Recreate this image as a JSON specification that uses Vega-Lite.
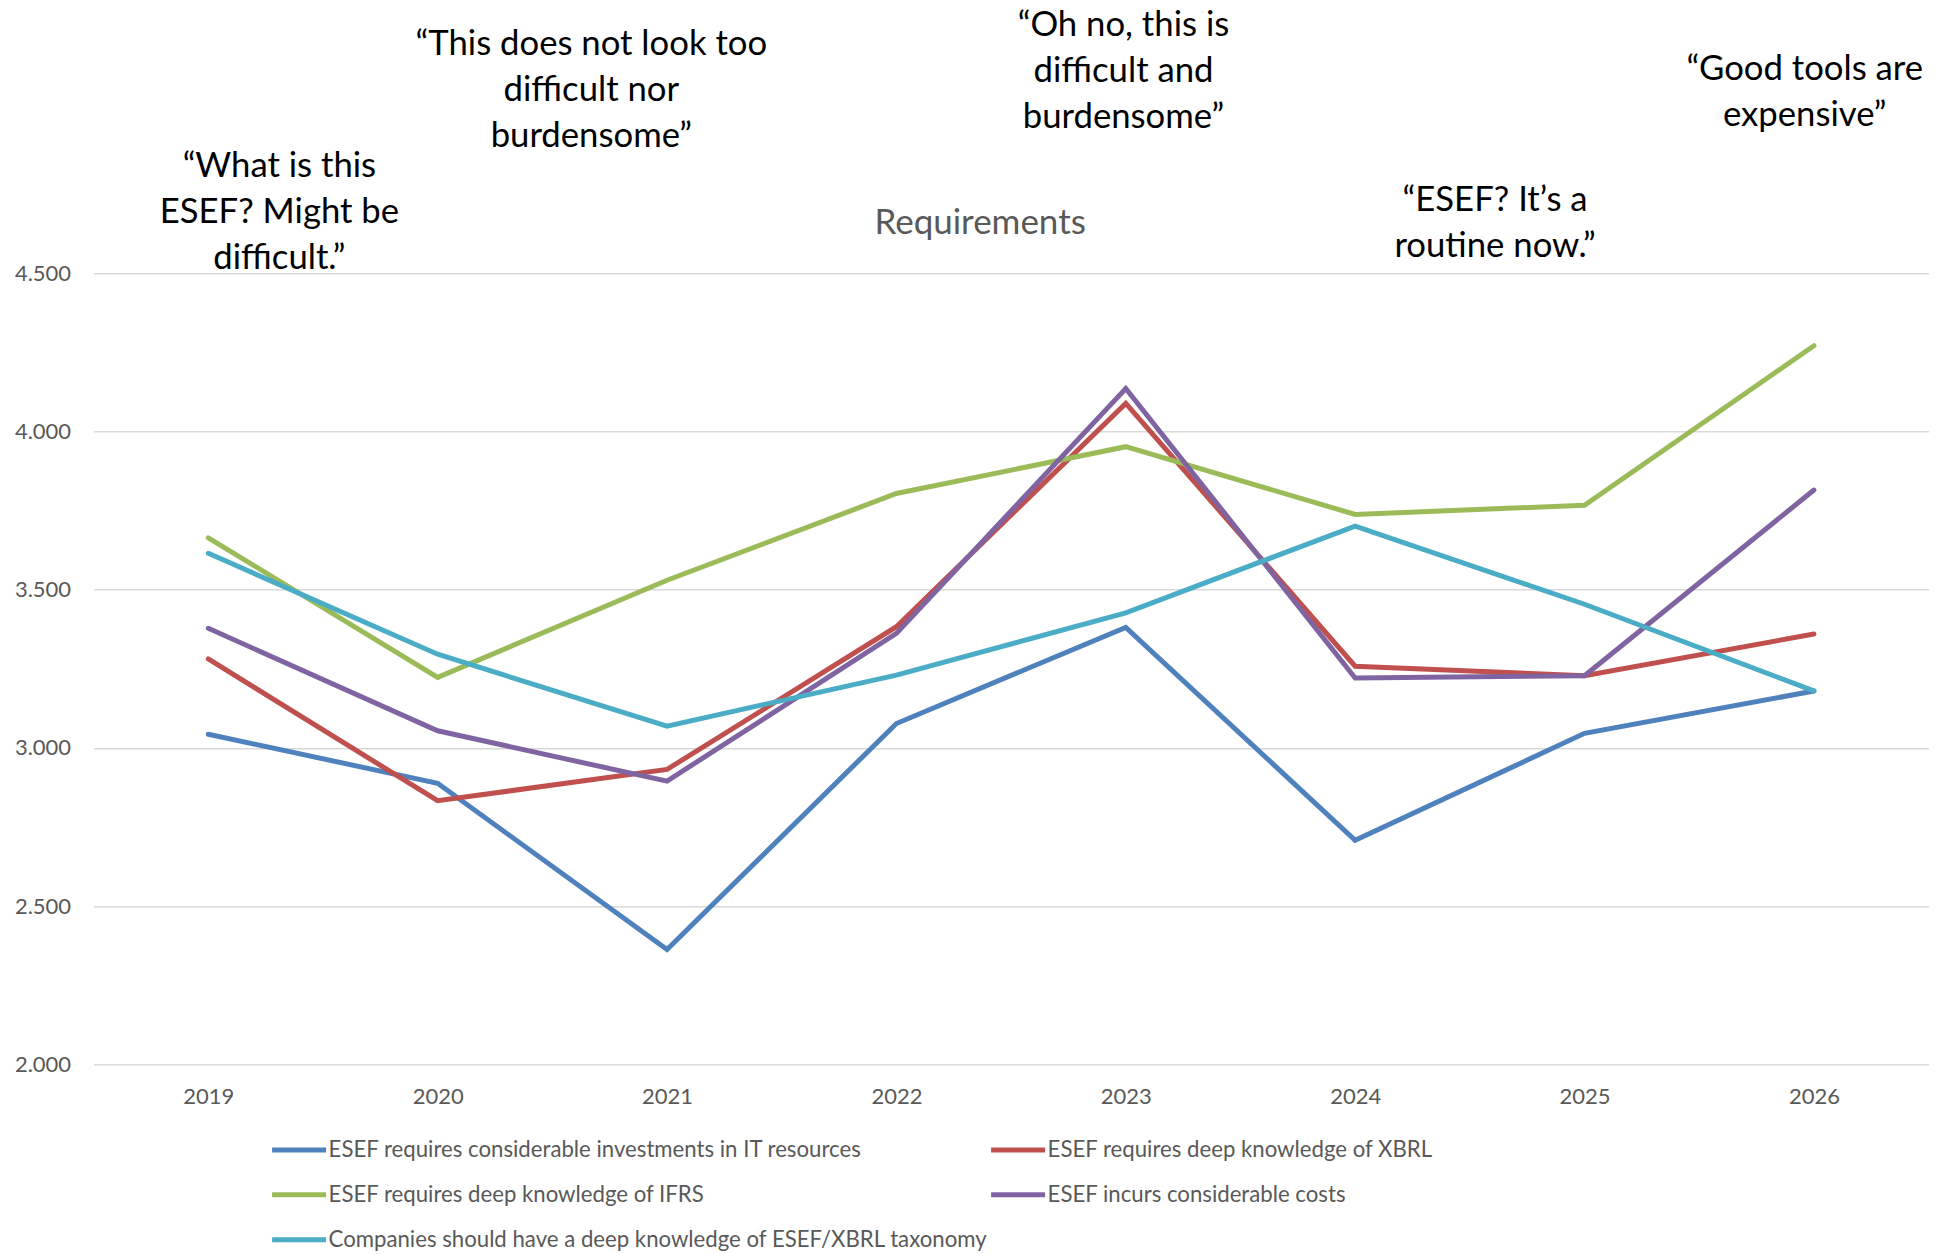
{
  "$schema": "https://vega.github.io/schema/vega-lite/v6.json",
  "width": 1835,
  "height": 791,
  "autosize": {"type": "none"},
  "padding": {"left": 93.6, "top": 273.3, "right": 10, "bottom": 190},
  "background": "white",
  "config": {"view": {"stroke": null}, "font": "Lato"},
  "title": {"text": "Requirements", "anchor": "middle", "dx": -31, "offset": -250, "baseline": "middle", "fontSize": 35, "fontWeight": "normal", "color": "#595959", "font": "Lato"},
  "datasets": {
    "series": [
      {"year": 2019, "value": 3.043, "series": "ESEF requires considerable investments in IT resources"},
      {"year": 2020, "value": 2.888, "series": "ESEF requires considerable investments in IT resources"},
      {"year": 2021, "value": 2.363, "series": "ESEF requires considerable investments in IT resources"},
      {"year": 2022, "value": 3.077, "series": "ESEF requires considerable investments in IT resources"},
      {"year": 2023, "value": 3.381, "series": "ESEF requires considerable investments in IT resources"},
      {"year": 2024, "value": 2.708, "series": "ESEF requires considerable investments in IT resources"},
      {"year": 2025, "value": 3.046, "series": "ESEF requires considerable investments in IT resources"},
      {"year": 2026, "value": 3.180, "series": "ESEF requires considerable investments in IT resources"},
      {"year": 2019, "value": 3.281, "series": "ESEF requires deep knowledge of XBRL"},
      {"year": 2020, "value": 2.833, "series": "ESEF requires deep knowledge of XBRL"},
      {"year": 2021, "value": 2.932, "series": "ESEF requires deep knowledge of XBRL"},
      {"year": 2022, "value": 3.383, "series": "ESEF requires deep knowledge of XBRL"},
      {"year": 2023, "value": 4.089, "series": "ESEF requires deep knowledge of XBRL"},
      {"year": 2024, "value": 3.258, "series": "ESEF requires deep knowledge of XBRL"},
      {"year": 2025, "value": 3.228, "series": "ESEF requires deep knowledge of XBRL"},
      {"year": 2026, "value": 3.360, "series": "ESEF requires deep knowledge of XBRL"},
      {"year": 2019, "value": 3.664, "series": "ESEF requires deep knowledge of IFRS"},
      {"year": 2020, "value": 3.223, "series": "ESEF requires deep knowledge of IFRS"},
      {"year": 2021, "value": 3.530, "series": "ESEF requires deep knowledge of IFRS"},
      {"year": 2022, "value": 3.804, "series": "ESEF requires deep knowledge of IFRS"},
      {"year": 2023, "value": 3.952, "series": "ESEF requires deep knowledge of IFRS"},
      {"year": 2024, "value": 3.738, "series": "ESEF requires deep knowledge of IFRS"},
      {"year": 2025, "value": 3.767, "series": "ESEF requires deep knowledge of IFRS"},
      {"year": 2026, "value": 4.271, "series": "ESEF requires deep knowledge of IFRS"},
      {"year": 2019, "value": 3.378, "series": "ESEF incurs considerable costs"},
      {"year": 2020, "value": 3.054, "series": "ESEF incurs considerable costs"},
      {"year": 2021, "value": 2.895, "series": "ESEF incurs considerable costs"},
      {"year": 2022, "value": 3.362, "series": "ESEF incurs considerable costs"},
      {"year": 2023, "value": 4.136, "series": "ESEF incurs considerable costs"},
      {"year": 2024, "value": 3.221, "series": "ESEF incurs considerable costs"},
      {"year": 2025, "value": 3.228, "series": "ESEF incurs considerable costs"},
      {"year": 2026, "value": 3.815, "series": "ESEF incurs considerable costs"},
      {"year": 2019, "value": 3.615, "series": "Companies should have a deep knowledge of ESEF/XBRL taxonomy"},
      {"year": 2020, "value": 3.296, "series": "Companies should have a deep knowledge of ESEF/XBRL taxonomy"},
      {"year": 2021, "value": 3.069, "series": "Companies should have a deep knowledge of ESEF/XBRL taxonomy"},
      {"year": 2022, "value": 3.230, "series": "Companies should have a deep knowledge of ESEF/XBRL taxonomy"},
      {"year": 2023, "value": 3.427, "series": "Companies should have a deep knowledge of ESEF/XBRL taxonomy"},
      {"year": 2024, "value": 3.701, "series": "Companies should have a deep knowledge of ESEF/XBRL taxonomy"},
      {"year": 2025, "value": 3.454, "series": "Companies should have a deep knowledge of ESEF/XBRL taxonomy"},
      {"year": 2026, "value": 3.180, "series": "Companies should have a deep knowledge of ESEF/XBRL taxonomy"}
    ],
    "notes": [
      {"x": 2019.31, "y": 4.836, "label": "“What is this\nESEF? Might be\ndifficult.”"},
      {"x": 2020.67, "y": 5.223, "label": "“This does not look too\ndifficult nor\nburdensome”"},
      {"x": 2022.99, "y": 5.282, "label": "“Oh no, this is\ndifficult and\nburdensome”"},
      {"x": 2024.61, "y": 4.727, "label": "“ESEF? It’s a\nroutine now.”"},
      {"x": 2025.96, "y": 5.144, "label": "“Good tools are\nexpensive”"}
    ]
  },
  "layer": [
    {
      "data": {"name": "series"},
      "mark": {"type": "line", "strokeWidth": 5, "strokeCap": "round"},
      "encoding": {
        "x": {
          "field": "year", "type": "quantitative",
          "scale": {"domain": [2018.5, 2026.5], "nice": false, "zero": false},
          "axis": {"values": [2019, 2020, 2021, 2022, 2023, 2024, 2025, 2026], "format": "d", "title": null, "grid": false, "domain": false, "ticks": false, "labelFontSize": 22, "labelColor": "#595959", "labelPadding": 22, "labelFont": "Lato", "labelFlush": false}
        },
        "y": {
          "field": "value", "type": "quantitative",
          "scale": {"domain": [2, 4.5], "nice": false, "zero": false},
          "axis": {"values": [2, 2.5, 3, 3.5, 4, 4.5], "format": ".3f", "title": null, "domain": false, "ticks": false, "gridColor": "#D9D9D9", "gridWidth": 1.5, "labelFontSize": 22, "labelColor": "#595959", "labelPadding": 23, "labelFont": "Lato", "labelFlush": false}
        },
        "color": {
          "field": "series", "type": "nominal",
          "scale": {
            "domain": ["ESEF requires considerable investments in IT resources", "ESEF requires deep knowledge of XBRL", "ESEF requires deep knowledge of IFRS", "ESEF incurs considerable costs", "Companies should have a deep knowledge of ESEF/XBRL taxonomy"],
            "range": ["#4F81BD", "#C0504D", "#9BBB59", "#8064A2", "#4BACC6"]
          },
          "legend": {"orient": "none", "legendX": 176, "legendY": 847, "direction": "horizontal", "columns": 2, "title": null, "symbolType": "stroke", "symbolSize": 2916, "symbolStrokeWidth": 5, "labelFontSize": 22.2, "labelColor": "#595959", "labelFont": "Lato", "rowPadding": 4, "columnPadding": -16, "labelOffset": 0, "padding": 0, "labelLimit": 0}
        }
      }
    },
    {
      "data": {"name": "notes"},
      "mark": {"type": "text", "fontSize": 34.7, "lineBreak": "\n", "lineHeight": 46, "align": "center", "baseline": "middle", "color": "black", "font": "Lato"},
      "encoding": {
        "x": {"field": "x", "type": "quantitative"},
        "y": {"field": "y", "type": "quantitative"},
        "text": {"field": "label"}
      }
    }
  ]
}
